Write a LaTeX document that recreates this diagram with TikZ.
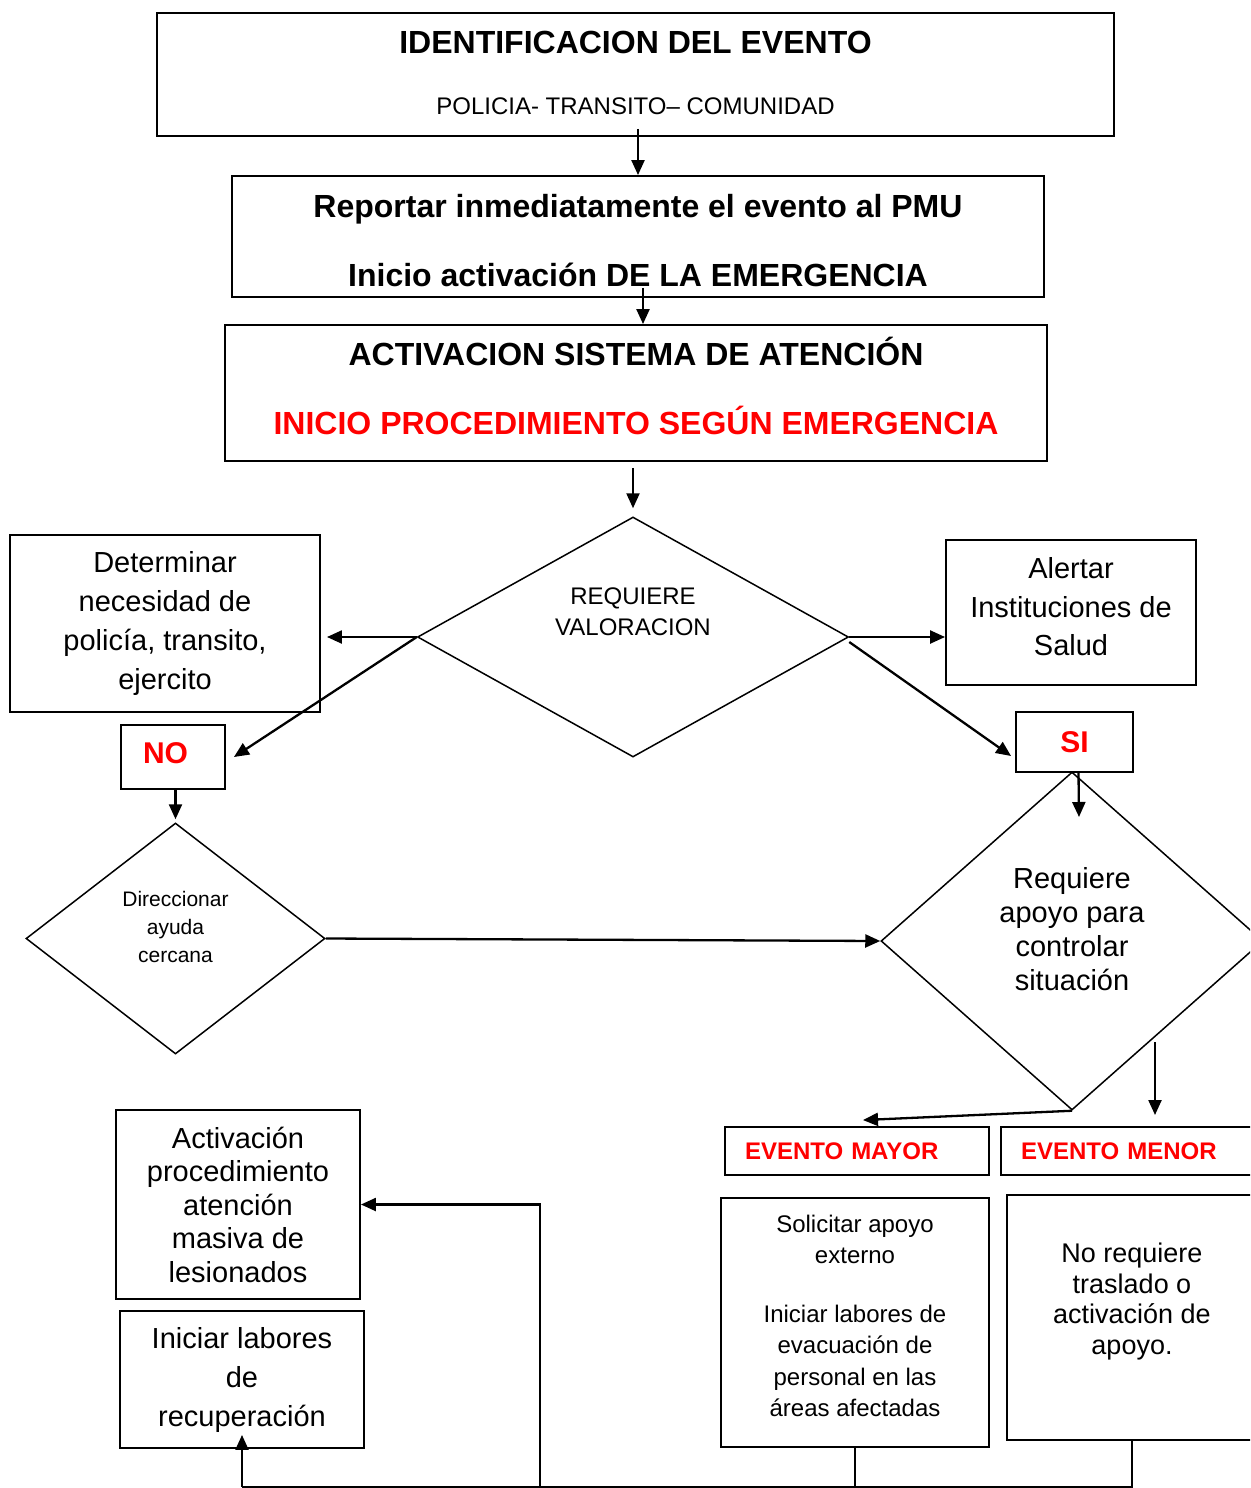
\documentclass[tikz,border=0pt]{standalone}
\usepackage{fontspec}
\setmainfont{Liberation Sans}
\usetikzlibrary{shapes.geometric,arrows.meta}
\begin{document}
\begin{tikzpicture}[x=1pt,y=-1pt,
  caja/.style={draw,line width=1.9pt,inner sep=0pt,align=center},
  rombo/.style={draw,diamond,line width=1.5pt,inner sep=0pt},
  flecha/.style={line width=2.3pt,-{Triangle[length=15pt,width=13pt]}},
  linea/.style={line width=2.2pt}]
\useasboundingbox (0,0) rectangle (1250,1488);
\clip (0,0) rectangle (1250,1488);
\node[caja,minimum width=957pt,minimum height=123pt,font=\bfseries\fontsize{32}{61}\selectfont] (ident) at (635.5,74.5) {IDENTIFICACION DEL EVENTO\\{\mdseries\fontsize{24}{61}\selectfont POLICIA- TRANSITO– COMUNIDAD\rule[-4pt]{0pt}{4pt}}};
\node[caja,minimum width=812pt,minimum height=121pt,font=\bfseries\fontsize{32}{69}\selectfont] (repor) at (638,236.5) {\rule{0pt}{31.5pt}Reportar inmediatamente el evento al PMU\\Inicio activación DE LA EMERGENCIA};
\node[caja,minimum width=822pt,minimum height=136pt,font=\bfseries\fontsize{32}{69}\selectfont] (activa) at (636,393) {ACTIVACION SISTEMA DE ATENCIÓN\\\textcolor{red}{INICIO PROCEDIMIENTO SEGÚN EMERGENCIA}\rule[-14pt]{0pt}{14pt}};
\node[rombo,minimum width=431pt,minimum height=240pt] (valor) at (633,637) {};
\node[font=\fontsize{24}{31}\selectfont,align=center] (valorT) at (633,612) {REQUIERE\\VALORACION};
\node[caja,minimum width=310pt,minimum height=177pt,font=\fontsize{29}{38.7}\selectfont] (deter) at (165,623.5) {Determinar\\necesidad de\\policía, transito,\\ejercito};
\node[caja,minimum width=104pt,minimum height=64pt,font=\bfseries\fontsize{30}{36}\selectfont,text=red,text width=60pt,align=left] (no) at (173,757) {NO\rule[-8pt]{0pt}{8pt}};
\node[rombo,minimum width=299pt,minimum height=231pt] (direc) at (175.5,938.5) {};
\node[font=\fontsize{21}{28}\selectfont,align=center] (direcT) at (175.5,927) {Direccionar\\ayuda\\cercana};
\node[caja,minimum width=250pt,minimum height=145pt,font=\fontsize{29}{38.5}\selectfont] (alerta) at (1071,612.5) {Alertar\\Instituciones de\\Salud\rule[-12pt]{0pt}{12pt}};
\node[caja,minimum width=117pt,minimum height=60pt,font=\bfseries\fontsize{30}{36}\selectfont,text=red] (si) at (1074.5,742) {SI};
\node[rombo,minimum width=382pt,minimum height=338pt] (situa) at (1072,941) {};
\node[font=\fontsize{29}{34}\selectfont,align=center] (situaT) at (1072,929.5) {Requiere\\apoyo para\\controlar\\situación};
\node[caja,minimum width=264pt,minimum height=48pt,font=\bfseries\fontsize{24}{29}\selectfont,text=red,text width=224pt,align=left] (mayor) at (857,1151) {EVENTO MAYOR};
\node[caja,minimum width=264pt,minimum height=48pt,font=\bfseries\fontsize{24}{29}\selectfont,text=red,text width=224pt,align=left] (menor) at (1133,1151) {EVENTO MENOR};
\node[caja,minimum width=268pt,minimum height=249pt,font=\fontsize{24}{31.5}\selectfont] (solic) at (855,1322.5) {Solicitar apoyo\\externo\\[27pt]Iniciar labores de\\evacuación de\\personal en las\\áreas afectadas\rule[-13pt]{0pt}{13pt}};
\node[caja,minimum width=250pt,minimum height=245pt] (norq) at (1132,1317.5) {};
\node[font=\fontsize{27}{30.7}\selectfont,align=center] (norqT) at (1132,1301.5) {No requiere\\traslado o\\activación de\\apoyo.};
\node[caja,minimum width=244pt,minimum height=189pt,font=\fontsize{29}{33.5}\selectfont] (masiva) at (238,1204.5) {Activación\\procedimiento\\atención\\masiva de\\lesionados};
\node[caja,minimum width=244pt,minimum height=137pt,font=\fontsize{29}{39}\selectfont] (recup) at (242,1379.5) {Iniciar labores\\de\\recuperación};
\coordinate (base) at (0,1487);
\coordinate (nudo) at (540,1487);
\coordinate (menA) at (1155,1042);
\coordinate (menB) at (1155,1115);
\coordinate (siB) at (1079,817);
\draw[flecha] ([yshift=8pt]ident.south -| repor.north) -- (repor.north);
\draw[flecha] ([shift={(5pt,10pt)}]repor.south) -- ([xshift=7pt]activa.north);
\draw[flecha] ([yshift=-6pt]activa.south -| valor.north) -- ([yshift=8pt]valor.north);
\draw[flecha] (valor.west) -- ([xshift=6pt]deter.east |- valor.west);
\draw[flecha] (valor.west) -- ([xshift=8pt]no.east);
\draw[flecha] (direc.north |- no.south) -- ([yshift=3pt]direc.north);
\draw[flecha] (direc.east) -- (situa.west);
\draw[flecha] (valor.east) -- (valor.east -| alerta.west);
\draw[flecha] ([yshift=-5pt]valor.east) -- ([shift={(-4pt,-14pt)}]si.west);
\draw[flecha] ([xshift=4pt]si.south) -- (siB);
\draw[flecha] (situa.south) -- ([shift={(6pt,6pt)}]mayor.north);
\draw[flecha] (menA) -- (menB);
\draw[linea] (solic.south) -- (solic.south |- base);
\draw[linea] (norq.south) -- (norq.south |- base) -- (recup.south |- base);
\draw[flecha] (nudo) |- (masiva.east);
\draw[flecha] (recup.south |- base) -- ([yshift=14pt]recup.south);
\end{tikzpicture}
\end{document}
